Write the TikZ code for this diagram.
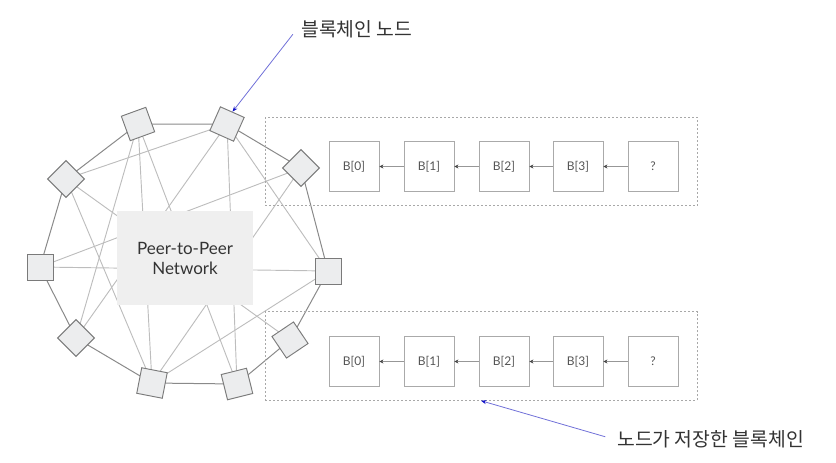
\documentclass[tikz,border=0pt]{standalone}
\usepackage{fontspec}
\setmainfont{Lato}
\newfontfamily\krfont{Noto Sans CJK KR}
\usetikzlibrary{arrows.meta}
\definecolor{ringc}{HTML}{8A8A8A}
\definecolor{innerc}{HTML}{BDBDBD}
\definecolor{nodef}{HTML}{ECEDEE}
\definecolor{nodeb}{HTML}{7A7A7A}
\definecolor{netf}{HTML}{EFEFEF}
\definecolor{txt}{HTML}{333333}
\definecolor{blkb}{HTML}{AAAAAA}
\definecolor{blkt}{HTML}{555555}
\definecolor{dashc}{HTML}{A8A8A8}
\definecolor{annl}{HTML}{7070D8}
\definecolor{annh}{HTML}{1010C8}
\begin{document}
\begin{tikzpicture}[x=0.75pt,y=-0.75pt,
  peer/.style={draw=nodeb, fill=nodef, line width=0.7pt, minimum width=19.5pt, minimum height=19.5pt, inner sep=0pt},
  ring/.style={draw=ringc, line width=0.75pt},
  inner/.style={draw=innerc, line width=0.7pt},
  blk/.style={draw=blkb, fill=white, line width=0.6pt, minimum width=37.5pt, minimum height=37pt, inner sep=0pt, text=blkt, font=\fontsize{9}{10}\selectfont},
  chainbox/.style={draw=dashc, dash pattern=on 1.5pt off 1.5pt, line width=0.6pt, minimum width=324pt, minimum height=66.5pt, inner sep=0pt},
  blkarrow/.style={draw=innerc!80!black, line width=0.6pt, -{Stealth[length=3pt,width=3pt,color=blkt!80!black]}},
  annarrow/.style={draw=annl, line width=0.6pt, -{Stealth[length=4pt,width=3pt,color=annh]}},
  lbl/.style={text=txt, font=\krfont\fontsize{14.5}{16}\selectfont, inner sep=3pt}
]
\useasboundingbox (0,0) rectangle (836,462);

% peer coordinates (for edges)
\coordinate (p1) at (138,124);
\coordinate (p2) at (227,124);
\coordinate (p3) at (301,168);
\coordinate (p4) at (328,271);
\coordinate (p5) at (290,340);
\coordinate (p6) at (237,384);
\coordinate (p7) at (152,383);
\coordinate (p8) at (76,338);
\coordinate (p9) at (40,267);
\coordinate (p10) at (66,179);

% interior edges
\draw[inner] (p1) -- (p7);
\draw[inner] (p1) -- (p8);
\draw[inner] (p1) -- (p6);
\draw[inner] (p2) -- (p8);
\draw[inner] (p2) -- (p10);
\draw[inner] (p2) -- (p6);
\draw[inner] (p2) -- (p4);
\draw[inner] (p3) -- (p9);
\draw[inner] (p3) -- (p7);
\draw[inner] (p4) -- (p9);
\draw[inner] (p4) -- (p7);
\draw[inner] (p10) -- (p5);
\draw[inner] (p10) -- (p7);

% ring
\draw[ring] (p1) -- (p2) -- (p3) -- (p4) -- (p5) -- (p6) -- (p7) -- (p8) -- (p9) -- (p10) -- cycle;

% central label
\node[fill=netf, minimum width=102pt, minimum height=70.5pt, inner sep=0pt, align=center, text=txt,
      font=\fontsize{12.75}{15}\selectfont] (net) at (185,258) {Peer-to-Peer\\Network};

% peers
\node[peer, rotate=20] (n1) at (p1) {};
\node[peer, rotate=-24] (n2) at (p2) {};
\node[peer, rotate=45] (n3) at (p3) {};
\node[peer] (n4) at (p4) {};
\node[peer, rotate=34] (n5) at (p5) {};
\node[peer, rotate=14] (n6) at (p6) {};
\node[peer, rotate=-11] (n7) at (p7) {};
\node[peer, rotate=45] (n8) at (p8) {};
\node[peer] (n9) at (p9) {};
\node[peer, rotate=45] (n10) at (p10) {};

% blockchain boxes
\node[chainbox] (c1) at (481,161.5) {};
\node[chainbox] (c2) at (481,356) {};

\foreach \y/\r in {166.5/a, 361.5/b}{
  \node[blk] (\r0) at (354,\y) {B[0]};
  \node[blk] (\r1) at (429,\y) {B[1]};
  \node[blk] (\r2) at (504,\y) {B[2]};
  \node[blk] (\r3) at (578,\y) {B[3]};
  \node[blk] (\r4) at (653,\y) {?};
  \draw[blkarrow] (\r1.west) -- (\r0.east);
  \draw[blkarrow] (\r2.west) -- (\r1.east);
  \draw[blkarrow] (\r3.west) -- (\r2.east);
  \draw[blkarrow] (\r4.west) -- (\r3.east);
}

% annotations
\node[lbl, anchor=west] (l1) at (297,29) {블록체인 노드};
\node[lbl, anchor=west] (l2) at (613,439) {노드가 저장한 블록체인};
\draw[annarrow, shorten <=5pt] (l1.west) -- (n2.north);
\draw[annarrow, shorten <=6pt] (l2.west) -- (c2.south);
\end{tikzpicture}
\end{document}
